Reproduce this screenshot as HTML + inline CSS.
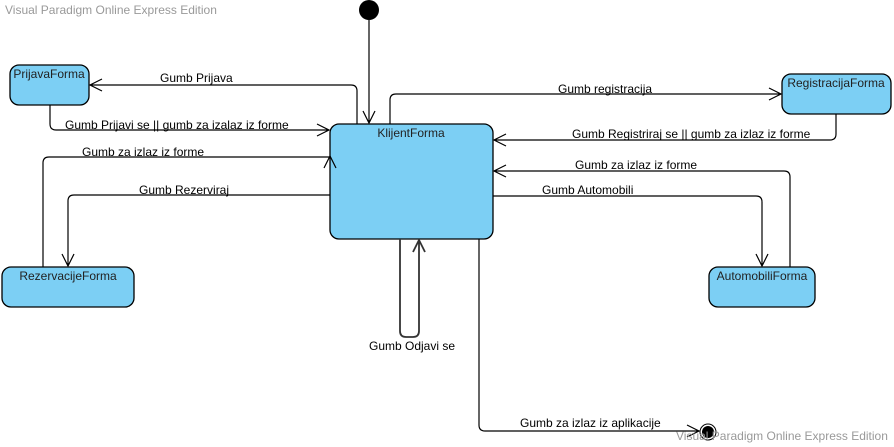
<!DOCTYPE html>
<html><head><meta charset="utf-8"><style>
html,body{margin:0;padding:0;background:#fff;width:894px;height:447px;overflow:hidden}
svg{display:block}
text{font-family:"Liberation Sans",Arial,sans-serif;font-size:12px}
.l{fill:#000}
.n{fill:#222;font-size:12px}
</style></head><body>
<svg width="894" height="447" viewBox="0 0 894 447" xmlns="http://www.w3.org/2000/svg">
<g fill="#7ccff4" stroke="#000" stroke-width="1.3">
<rect x="330" y="124" width="163" height="115" rx="9"/>
<rect x="10" y="65" width="79" height="40" rx="9"/>
<rect x="2" y="267" width="132" height="40" rx="9"/>
<rect x="782" y="74" width="109" height="40" rx="9"/>
<rect x="709" y="267" width="106" height="40" rx="9"/>
</g>
<g class="n" text-anchor="middle">
<text x="411" y="137">KlijentForma</text>
<text x="49" y="78">PrijavaForma</text>
<text x="68" y="280">RezervacijeForma</text>
<text x="836" y="87">RegistracijaForma</text>
<text x="762" y="280">AutomobiliForma</text>
</g>
<circle cx="369" cy="10" r="10" fill="#000"/>
<circle cx="708" cy="432" r="8" fill="#fff" stroke="#000"/>
<circle cx="708" cy="432" r="6" fill="#000"/>
<g fill="none" stroke="#000" stroke-width="1.2">
<path d="M369 20V123M363 111L369 123L375 111"/>
<path d="M357 124V91Q357 85 351 85H90M102 79L90 85L102 91"/>
<path d="M50 105V124Q50 130 56 130H329M317 124L329 130L317 136"/>
<path d="M43 267V163Q43 157 49 157H330M324 168L330 156L336 168"/>
<path d="M330 195H74Q68 195 68 201V266M62 254L68 266L74 254"/>
<path d="M390 124V100Q390 94 396 94H781M769 88L781 94L769 100"/>
<path d="M836 114V134Q836 140 830 140H494M506 134L494 140L506 146"/>
<path d="M790 267V177Q790 171 784 171H494M506 165L494 171L506 177"/>
<path d="M493 196H756Q762 196 762 202V266M756 254L762 266L768 254"/>
<path d="M479 239V425Q479 431 485 431H699M687 425L699 431L687 437"/>
</g>
<g fill="none" stroke="#333" stroke-width="1.8">
<path d="M400 239V331Q400 337 406 337H413Q419 337 419 331V240M413 252L419 240L425 252"/>
</g>
<g class="l">
<text x="160" y="82">Gumb Prijava</text>
<text x="65" y="129">Gumb Prijavi se || gumb za izalaz iz forme</text>
<text x="82" y="156">Gumb za izlaz iz forme</text>
<text x="139" y="194">Gumb Rezerviraj</text>
<text x="558" y="93">Gumb registracija</text>
<text x="572" y="138">Gumb Registriraj se || gumb za izlaz iz forme</text>
<text x="575" y="169">Gumb za izlaz iz forme</text>
<text x="542" y="194">Gumb Automobili</text>
<text x="369" y="350">Gumb Odjavi se</text>
<text x="520" y="427">Gumb za izlaz iz aplikacije</text>
</g>
<text x="5" y="14" fill="#999">Visual Paradigm Online Express Edition</text>
<text x="676" y="440" fill="#999">Visual Paradigm Online Express Edition</text>
</svg>
</body></html>
